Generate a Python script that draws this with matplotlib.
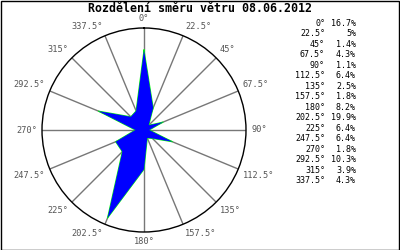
import matplotlib
matplotlib.use('Agg')
import matplotlib.pyplot as plt
import numpy as np

directions = [0, 22.5, 45, 67.5, 90, 112.5, 135, 157.5,
              180, 202.5, 225, 247.5, 270, 292.5, 315, 337.5]
shares = [16.7, 5, 1.4, 4.3, 1.1, 6.4, 2.5, 1.8,
          8.2, 19.9, 6.4, 6.4, 1.8, 10.3, 3.9, 4.3]
title = 'Rozdělení směru větru 08.06.2012'

mono = 'DejaVu Sans Mono'
W, H = 400, 250
fig = plt.figure(figsize=(4, 2.5), dpi=100)
fig.patch.set_facecolor('white')

# frame around the picture
fig.add_artist(plt.Rectangle((0.5 / W, 0.5 / H), 1 - 1.5 / W, 1 - 1.5 / H,
                             transform=fig.transFigure, fill=False,
                             edgecolor='black', lw=1))

cx, cy, R = 144, 130, 102
ax = fig.add_axes([(cx - R) / W, (H - cy - R) / H, 2 * R / W, 2 * R / H],
                  projection='polar')
ax.set_theta_zero_location('N')
ax.set_theta_direction(-1)
rmax = 21.3
ax.set_ylim(0, rmax)
ax.set_yticks([])
theta = np.deg2rad(directions)
ax.set_xticks(theta)
ax.set_xticklabels([])
ax.xaxis.grid(True, color='#777777', lw=1, linestyle='-')
ax.spines['polar'].set_color('black')
ax.spines['polar'].set_linewidth(1)

t_closed = np.append(theta, theta[0])
v_closed = np.append(shares, shares[0])
ax.plot(t_closed, v_closed, color='#00ff00', lw=0.8, zorder=2)
ax.fill(t_closed, v_closed, color='#0000ff', lw=0, zorder=3)

for d, t in zip(directions, theta):
    s, c = np.sin(t), np.cos(t)
    ha = 'left' if s > 0.1 else ('right' if s < -0.1 else 'center')
    va = 'bottom' if c > 0.3 else ('top' if c < -0.3 else 'center')
    ax.text(t, rmax * 1.05, '%g°' % d, ha=ha, va=va, fontsize=6.2,
            family=mono, color='#555555', clip_on=False)

fig.text(0.5, 1 - 8 / H, title, ha='center', va='center',
         fontsize=8.4, family=mono, weight='bold')

for i, (d, p) in enumerate(zip(directions, shares)):
    y = 1 - (23 + i * 10.53) / H
    fig.text(325 / W, y, '%g°' % d, ha='right', va='center',
             fontsize=6, family=mono)
    fig.text(356 / W, y, '%g%%' % p, ha='right', va='center',
             fontsize=6, family=mono)

plt.savefig('out.png', dpi=100)
